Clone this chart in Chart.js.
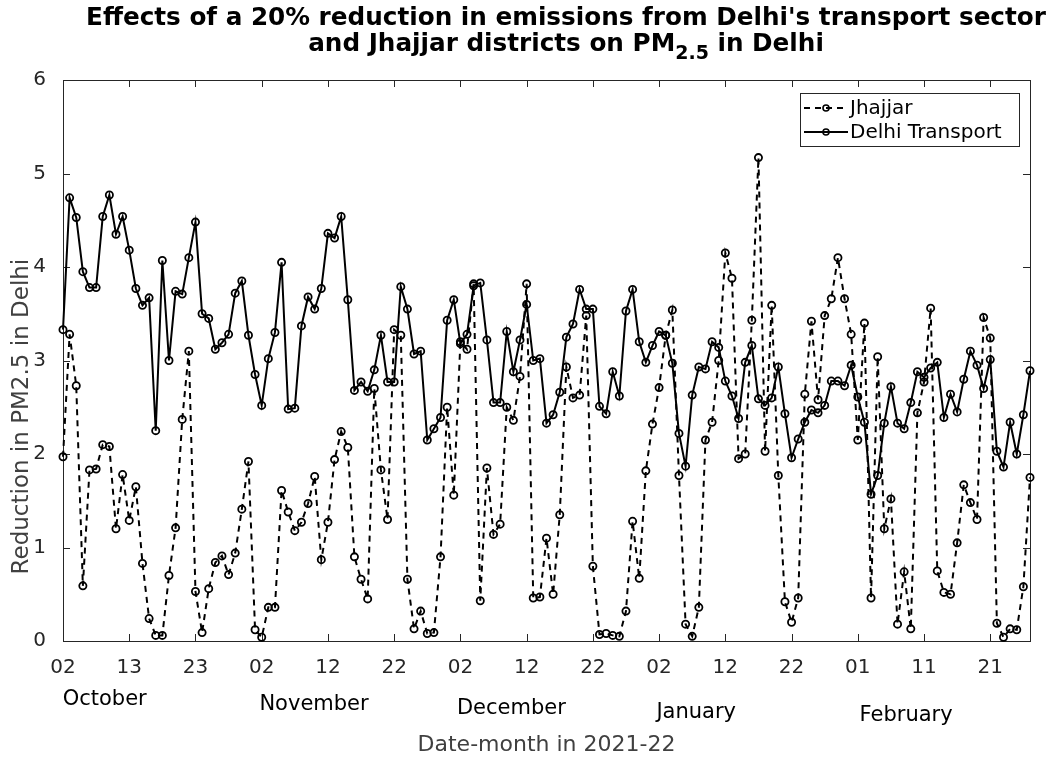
<!DOCTYPE html>
<html>
<head>
<meta charset="utf-8">
<script src="https://cdn.jsdelivr.net/npm/chart.js@4.4.0/dist/chart.umd.min.js"></script>
<style>
  body { margin: 0; background: #fff; }
  #wrap { position: relative; width: 1060px; height: 761px; }
  #title {
    position: absolute; top: 4px; left: 36px; width: 1060px;
    text-align: center; font: bold 24.7px "DejaVu Sans"; line-height: 26px; color: #000;
  }
  #title sub { font-size: 19px; vertical-align: -8px; line-height: 0; }
</style>
</head>
<body>
<div id="wrap">
  <canvas id="chart" width="1060" height="761"></canvas>
  <div id="title">Effects of a 20% reduction in emissions from Delhi's transport sector<br>and Jhajjar districts on PM<sub>2.5</sub> in Delhi</div>
</div>
<script>
// tick labels every 10 days on the x axis
const tickLabels = ['02', '13', '23', '02', '12', '22', '02', '12', '22', '02', '12', '22', '01', '11', '21'];
const months = ['October', 'November', 'December', 'January', 'February'];
const yTitle = 'Reduction in PM2.5 in Delhi';

const jhajjar = [
    1.97, 3.28, 2.73, 0.59, 1.83, 1.84, 2.10, 2.08, 1.20, 1.78,
    1.29, 1.65, 0.83, 0.24, 0.06, 0.06, 0.70, 1.21, 2.37, 3.10,
    0.53, 0.09, 0.56, 0.84, 0.91, 0.71, 0.94, 1.41, 1.92, 0.12,
    0.04, 0.36, 0.36, 1.61, 1.38, 1.18, 1.27, 1.47, 1.76, 0.87,
    1.27, 1.94, 2.24, 2.07, 0.90, 0.66, 0.45, 2.70, 1.83, 1.30,
    3.33, 3.27, 0.66, 0.13, 0.32, 0.08, 0.09, 0.90, 2.50, 1.56,
    3.20, 3.12, 3.82, 0.43, 1.85, 1.14, 1.25, 2.50, 2.36, 2.83,
    3.82, 0.46, 0.47, 1.10, 0.50, 1.35, 2.93, 2.60, 2.63, 3.48,
    0.80, 0.07, 0.08, 0.06, 0.05, 0.32, 1.28, 0.67, 1.82, 2.32,
    2.71, 3.27, 3.54, 1.77, 0.18, 0.05, 0.36, 2.15, 2.34, 3.00,
    4.15, 3.88, 1.95, 2.00, 3.43, 5.17, 2.03, 3.59, 1.77, 0.42,
    0.20, 0.46, 2.64, 3.42, 2.58, 3.48, 3.66, 4.10, 3.66, 3.28,
    2.15, 3.40, 0.46, 3.04, 1.20, 1.52, 0.18, 0.74, 0.13, 2.44,
    2.77, 3.56, 0.75, 0.52, 0.50, 1.05, 1.67, 1.48, 1.30, 3.46,
    3.24, 0.19, 0.04, 0.13, 0.12, 0.58, 1.75
];

const delhiTransport = [
    3.33, 4.74, 4.53, 3.95, 3.78, 3.78, 4.54, 4.77, 4.35, 4.54,
    4.18, 3.77, 3.59, 3.67, 2.25, 4.07, 3.00, 3.74, 3.71, 4.10,
    4.48, 3.50, 3.45, 3.12, 3.19, 3.28, 3.72, 3.85, 3.27, 2.85,
    2.52, 3.02, 3.30, 4.05, 2.48, 2.49, 3.37, 3.68, 3.55, 3.77,
    4.36, 4.31, 4.54, 3.65, 2.68, 2.77, 2.67, 2.90, 3.27, 2.77,
    2.77, 3.79, 3.55, 3.07, 3.10, 2.15, 2.27, 2.39, 3.43, 3.65,
    3.18, 3.28, 3.80, 3.83, 3.22, 2.55, 2.55, 3.31, 2.88, 3.22,
    3.60, 3.00, 3.02, 2.33, 2.42, 2.66, 3.25, 3.39, 3.76, 3.55,
    3.55, 2.51, 2.43, 2.88, 2.62, 3.53, 3.76, 3.20, 2.98, 3.16,
    3.31, 3.27, 2.97, 2.22, 1.87, 2.63, 2.93, 2.91, 3.20, 3.14,
    2.78, 2.62, 2.38, 2.98, 3.16, 2.59, 2.52, 2.60, 2.93, 2.43,
    1.96, 2.16, 2.34, 2.47, 2.44, 2.52, 2.78, 2.78, 2.73, 2.95,
    2.61, 2.34, 1.57, 1.77, 2.33, 2.72, 2.33, 2.27, 2.55, 2.88,
    2.82, 2.92, 2.98, 2.39, 2.64, 2.45, 2.80, 3.10, 2.95, 2.70,
    3.01, 2.03, 1.86, 2.34, 2.00, 2.42, 2.89
];

const FONT = '"DejaVu Sans", sans-serif';
const AXIS_COLOR = '#262626';

// where the month names sit (x in day index, y in px)
const monthPos = [[6.3, 700], [37.9, 705], [67.7, 709], [95.6, 713], [127.3, 716]];

function toPoints(vals) {
    return vals.map((v, i) => ({ x: i, y: v }));
}

// MATLAB style box with inward ticks
const axesBox = {
    id: 'axesBox',
    beforeDatasetsDraw(chart) {
        const { ctx, chartArea: a, scales: { x, y } } = chart;
        ctx.save();
        ctx.strokeStyle = AXIS_COLOR;
        ctx.lineWidth = 1;
        ctx.strokeRect(a.left + 0.5, a.top + 0.5, a.width, a.height);
        ctx.beginPath();
        x.ticks.forEach(t => {
            const px = Math.round(x.getPixelForValue(t.value)) + 0.5;
            ctx.moveTo(px, a.bottom); ctx.lineTo(px, a.bottom - 7);
            ctx.moveTo(px, a.top); ctx.lineTo(px, a.top + 7);
        });
        y.ticks.forEach(t => {
            const py = Math.round(y.getPixelForValue(t.value)) + 0.5;
            ctx.moveTo(a.left, py); ctx.lineTo(a.left + 7, py);
            ctx.moveTo(a.right, py); ctx.lineTo(a.right - 7, py);
        });
        ctx.stroke();
        ctx.restore();
    }
};

// month names under the day ticks, plus the y label (sits a bit low in the original)
const extraText = {
    id: 'extraText',
    afterDraw(chart) {
        const { ctx, chartArea: a, scales: { x } } = chart;
        ctx.save();
        ctx.fillStyle = '#000';
        ctx.font = '21px ' + FONT;
        ctx.textAlign = 'center';
        ctx.textBaseline = 'middle';
        months.forEach((m, i) => {
            ctx.fillText(m, x.getPixelForValue(monthPos[i][0]), monthPos[i][1]);
        });
        ctx.translate(22, a.top + a.height * 0.6);
        ctx.rotate(-Math.PI / 2);
        ctx.fillStyle = '#404040';
        ctx.font = '23px ' + FONT;
        ctx.fillText(yTitle, 0, 0);
        ctx.restore();
    }
};

// legend box: line sample with marker, like MATLAB
const boxLegend = {
    id: 'boxLegend',
    afterDraw(chart) {
        const { ctx, chartArea: a } = chart;
        const w = 219, h = 53;
        const bx = a.right - 11 - w, by = a.top + 13;
        ctx.save();
        ctx.fillStyle = '#fff';
        ctx.fillRect(bx, by, w, h);
        ctx.strokeStyle = AXIS_COLOR;
        ctx.lineWidth = 1;
        ctx.strokeRect(bx + 0.5, by + 0.5, w, h);
        chart.data.datasets.forEach((ds, i) => {
            const cy = by + 15 + i * 24;
            ctx.strokeStyle = '#000';
            ctx.lineWidth = 2;
            ctx.setLineDash(ds.borderDash || []);
            ctx.beginPath();
            ctx.moveTo(bx + 4, cy);
            ctx.lineTo(bx + 48, cy);
            ctx.stroke();
            ctx.setLineDash([]);
            ctx.lineWidth = 1.6;
            ctx.beginPath();
            ctx.arc(bx + 26, cy, 3, 0, Math.PI * 2);
            ctx.stroke();
            ctx.fillStyle = '#000';
            ctx.font = '20px ' + FONT;
            ctx.textBaseline = 'middle';
            ctx.fillText(ds.label, bx + 50, cy + 1);
        });
        ctx.restore();
    }
};

window.onload = function() {
    const ctx = document.getElementById('chart').getContext('2d');
    new Chart(ctx, {
        type: 'line',
        data: {
            datasets: [{
                label: 'Jhajjar',
                data: toPoints(jhajjar),
                borderColor: '#000',
                borderWidth: 2,
                borderDash: [6, 5],
                pointRadius: 3.6,
                pointBorderWidth: 1.8,
                pointBorderColor: '#000',
                pointBackgroundColor: 'rgba(0,0,0,0)',
                tension: 0,
                clip: false
            }, {
                label: 'Delhi Transport',
                data: toPoints(delhiTransport),
                borderColor: '#000',
                borderWidth: 2,
                pointRadius: 3.6,
                pointBorderWidth: 1.8,
                pointBorderColor: '#000',
                pointBackgroundColor: 'rgba(0,0,0,0)',
                tension: 0,
                clip: false
            }]
        },
        options: {
            responsive: false,
            animation: false,
            layout: { padding: { top: 80, right: 30, left: 0, bottom: 0 } },
            plugins: {
                legend: { display: false },
                tooltip: { enabled: false }
            },
            scales: {
                x: {
                    type: 'linear',
                    min: 0,
                    max: jhajjar.length - 1,
                    grid: { display: false },
                    border: { display: false },
                    ticks: {
                        stepSize: 10,
                        autoSkip: false,
                        maxRotation: 0,
                        includeBounds: false,
                        padding: 7,
                        color: AXIS_COLOR,
                        font: { size: 20, family: FONT },
                        callback: v => tickLabels[v / 10]
                    },
                    title: {
                        display: true,
                        text: 'Date-month in 2021-22',
                        color: '#404040',
                        font: { size: 22, family: FONT },
                        padding: { top: 3, bottom: 3 }
                    },
                    afterFit: s => { s.height = 120; }
                },
                y: {
                    min: 0,
                    max: 6,
                    grid: { display: false },
                    border: { display: false },
                    ticks: {
                        stepSize: 1,
                        padding: 9,
                        color: AXIS_COLOR,
                        font: { size: 20, family: FONT }
                    },
                    afterFit: s => { s.width = 63; }
                }
            }
        },
        plugins: [axesBox, extraText, boxLegend]
    });
};
</script>
</body>
</html>
